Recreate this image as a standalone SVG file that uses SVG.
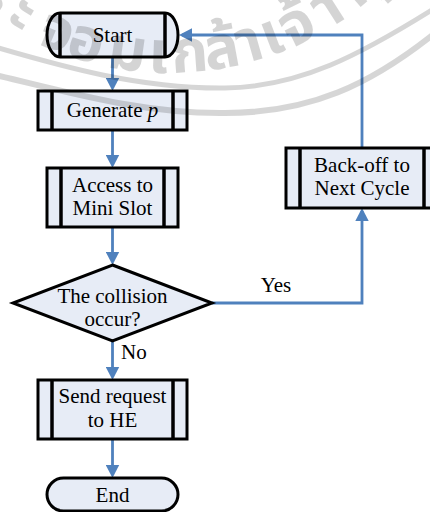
<svg xmlns="http://www.w3.org/2000/svg" width="430" height="512" viewBox="0 0 430 512">
  <style>
    .box { fill: #e7ecf6; stroke: #000; stroke-width: 3; }
    .bar { stroke: #000; stroke-width: 3.5; }
    .lbl { font-family: "Liberation Serif", "Times New Roman", serif; font-size: 21px; fill: #000; text-anchor: middle; }
    .edge { fill: none; stroke: #4f81bd; stroke-width: 2.8; }
    .wm { fill: none; stroke: #000; stroke-opacity: 0.16; }
    .wmt { font-family: "Noto Sans Thai", "Noto Sans", "DejaVu Sans", sans-serif; font-size: 60px; font-weight: bold; fill: #000; fill-opacity: 0.17; text-anchor: middle; }
  </style>
  <defs>
    <marker id="arrow" markerUnits="userSpaceOnUse" markerWidth="14" markerHeight="14" refX="10" refY="7" orient="auto">
      <path d="M0,0.3 L13,7 L0,13.7 Z" fill="#4f81bd"/>
    </marker>
  </defs>
  <rect width="430" height="512" fill="#fff"/>

  <!-- connectors -->
  <g id="connectors">
    <path class="edge" d="M112.5,57 V88" marker-end="url(#arrow)"/>
    <path class="edge" d="M112.5,130 V165" marker-end="url(#arrow)"/>
    <path class="edge" d="M112.5,227 V262" marker-end="url(#arrow)"/>
    <path class="edge" d="M112.5,341 V377" marker-end="url(#arrow)"/>
    <path class="edge" d="M112.5,439 V475" marker-end="url(#arrow)"/>
    <path class="edge" d="M212,303 H362 V211" marker-end="url(#arrow)"/>
    <path class="edge" d="M362,148 V35 H182" marker-end="url(#arrow)"/>
    <text class="lbl" x="276" y="292">Yes</text>
    <text class="lbl" x="121" y="359" style="text-anchor:start">No</text>
  </g>

  <!-- start terminator -->
  <g id="start">
    <path class="box" d="M60,13 H165 A13,22 0 0 1 165,57 H60 A13,22 0 0 1 60,13 Z"/>
    <line class="bar" x1="60" y1="13" x2="60" y2="57"/>
    <line class="bar" x1="165" y1="13" x2="165" y2="57"/>
    <text class="lbl" x="112.5" y="42">Start</text>
  </g>

  <!-- generate p -->
  <g id="generate">
    <rect class="box" x="38" y="91" width="149" height="39"/>
    <line class="bar" x1="52" y1="91" x2="52" y2="130"/>
    <line class="bar" x1="173" y1="91" x2="173" y2="130"/>
    <text class="lbl" x="112.5" y="117">Generate <tspan font-style="italic">p</tspan></text>
  </g>

  <!-- access to mini slot -->
  <g id="access">
    <rect class="box" x="47" y="168" width="131" height="59"/>
    <line class="bar" x1="61" y1="168" x2="61" y2="227"/>
    <line class="bar" x1="164" y1="168" x2="164" y2="227"/>
    <text class="lbl" x="112.5" y="192">Access to</text>
    <text class="lbl" x="112.5" y="215">Mini Slot</text>
  </g>

  <!-- collision decision -->
  <g id="decision">
    <path class="box" d="M112.5,265 L212,303 L112.5,341 L13,303 Z"/>
    <text class="lbl" x="112.5" y="303">The collision</text>
    <text class="lbl" x="112.5" y="326">occur?</text>
  </g>

  <!-- back-off -->
  <g id="backoff">
    <rect class="box" x="286" y="148" width="152" height="60"/>
    <line class="bar" x1="300" y1="148" x2="300" y2="208"/>
    <line class="bar" x1="424" y1="148" x2="424" y2="208"/>
    <text class="lbl" x="362" y="172">Back-off to</text>
    <text class="lbl" x="362" y="195">Next Cycle</text>
  </g>

  <!-- send request -->
  <g id="send">
    <rect class="box" x="38" y="380" width="149" height="59"/>
    <line class="bar" x1="52" y1="380" x2="52" y2="439"/>
    <line class="bar" x1="173" y1="380" x2="173" y2="439"/>
    <text class="lbl" x="112.5" y="403">Send request</text>
    <text class="lbl" x="112.5" y="427">to HE</text>
  </g>

  <!-- end terminator -->
  <g id="end">
    <rect class="box" x="47" y="478" width="131" height="33" rx="16.5" ry="16.5"/>
    <text class="lbl" x="112.5" y="502">End</text>
  </g>

  <!-- seal overprint: two rings and lettering set round a circle centred near (168,-237) -->
  <g id="seal">
    <path class="wm" stroke-width="5" d="M-5,47 C60,66 140,89 225,88 C300,87 360,55 435,8"/>
    <path class="wm" stroke-width="6" d="M-5,75 C60,90 140,114 225,113 C310,113 370,85 435,33"/>
    <text class="wmt" transform="translate(-16,9) rotate(37.7)">ร</text>
    <text class="wmt" transform="translate(14,28) rotate(31.2)">ะ</text>
    <text class="wmt" transform="translate(50,49) rotate(22.8)">จ</text>
    <text class="wmt" transform="translate(81,60) rotate(17)">อ</text>
    <text class="wmt" transform="translate(125,70) rotate(8)">ม</text>
    <text class="wmt" transform="translate(158,73) rotate(2)">เ</text>
    <text class="wmt" transform="translate(191,72) rotate(-4.2)">ก</text>
    <text class="wmt" transform="translate(225,68) rotate(-10.6)">ล้</text>
    <text class="wmt" transform="translate(254,61) rotate(-16)">า</text>
    <text class="wmt" transform="translate(278,53) rotate(-20.8)">เ</text>
    <text class="wmt" transform="translate(305,42) rotate(-26.1)">จ้</text>
    <text class="wmt" transform="translate(337,24) rotate(-32.6)">า</text>
    <text class="wmt" transform="translate(372,-3) rotate(-41.1)">คุ</text>
    <text class="wmt" transform="translate(406,-39) rotate(-49.5)">ณ</text>
  </g>
</svg>
